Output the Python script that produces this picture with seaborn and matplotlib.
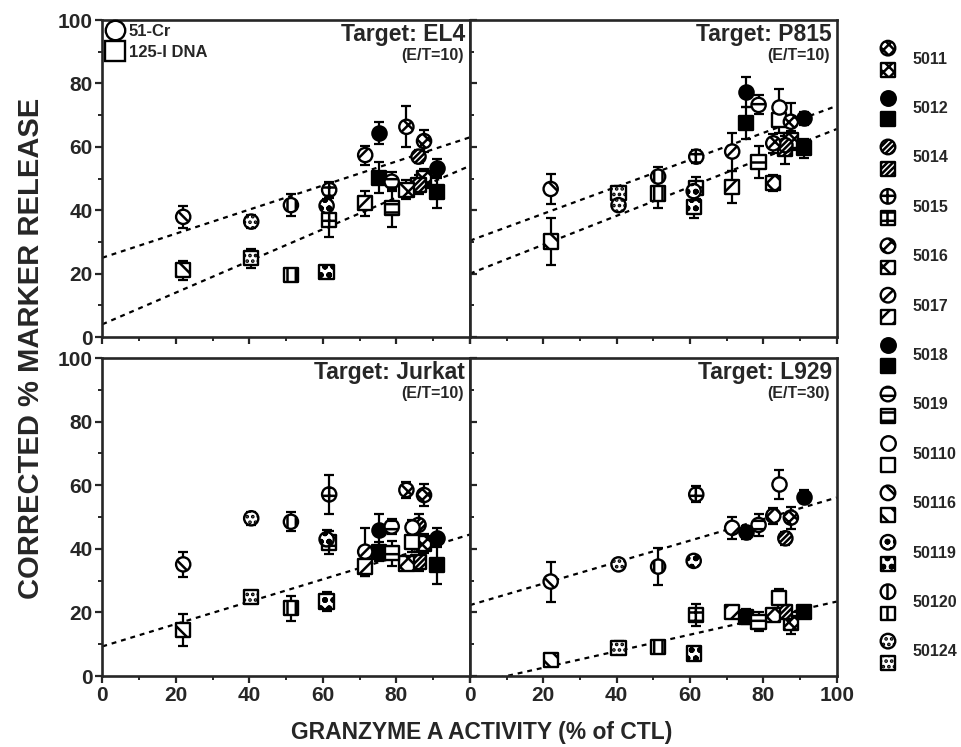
import numpy as np
import pandas as pd
import matplotlib
matplotlib.use("Agg")
import matplotlib.pyplot as plt
from matplotlib.lines import Line2D
from matplotlib.ticker import MultipleLocator, FuncFormatter
import seaborn as sns

nan = np.nan

# clones, in legend order
CLONES = ["5011", "5012", "5014", "5015", "5016", "5017", "5018",
          "5019", "50110", "50116", "50119", "50120", "50124"]
# granzyme A activity of each clone (% of CTL), the same in every panel
GRANZYME = [87.5, 75.3, 86.0, 61.7, 82.7, 71.5, 91.0, 78.7, 84.3, 22.0, 61.0, 51.3, 40.5]

# symbol fill of each clone
FILLS = ["white", "black", "white", "white", "white", "white", "black",
         "white", "white", "white", "white", "white", "white"]
HATCHES = ["xxx", None, "//////", "++", "xx", "//", None,
           "--", None, "\\\\", "oo", "||", "..."]

# corrected % release per clone (51-Cr = circles, 125-I DNA = squares)
EL4_CR = [61.8, 64.3, 56.9, 46.4, 66.3, 57.4, 53.2, 49.0, nan, 37.9, 41.4, 41.6, 36.4]
EL4_CR_ERR = [3.5, 3.5, 2, 2.5, 6.5, 3, 3, 3, nan, 3.5, 2, 3.5, 2]
EL4_DNA = [50.0, 50.3, 48.0, 36.9, 46.4, 42.2, 45.8, 40.6, nan, 21.1, 20.6, 19.6, 24.8]
EL4_DNA_ERR = [3, 5, 3, 5.5, 3, 4, 5, 6, nan, 3, 1.5, 1.5, 3]

P815_CR = [67.9, 77.4, 60.5, 56.9, 61.1, 58.5, 69.0, 73.2, 72.6, 46.7, 46.0, 50.6, 41.6]
P815_CR_ERR = [6, 4.7, 3, 2, 3, 6, 2, 3, 5.5, 4.7, 3, 3, 2]
P815_DNA = [62.0, 67.4, 59.5, 46.9, 48.5, 47.4, 59.5, 55.3, 68.5, 30.1, 41.1, 45.3, 45.5]
P815_DNA_ERR = [3, 5, 5, 3.5, 2.5, 5, 3, 5, 4, 7.3, 3.5, 4.5, 2]

JURKAT_CR = [56.9, 45.9, 47.5, 57.1, 58.5, 39.1, 43.5, 47.0, 47.0, 35.1, 43.0, 48.5, 49.6]
JURKAT_CR_ERR = [3.5, 5, 3.5, 6, 2.5, 7.5, 3, 2.5, 2, 4, 3, 3, 2]
JURKAT_DNA = [41.7, 39.1, 35.9, 42.0, 35.4, 34.4, 34.9, 38.6, 42.0, 14.5, 23.4, 21.3, 24.9]
JURKAT_DNA_ERR = [3, 3, 3, 3.5, 2, 3, 6, 4, 3, 5, 3, 4, 1.5]

L929_CR = [49.8, 45.2, 43.3, 57.1, 50.4, 46.6, 56.4, 47.5, 60.3, 29.7, 36.2, 34.4, 35.1]
L929_CR_ERR = [3.5, 2, 2, 2.5, 2.5, 3.5, 2, 3.5, 4.5, 6.3, 1, 5.8, 1.5]
L929_DNA = [16.6, 18.7, 20.2, 19.2, 19.2, 20.2, 20.2, 17.1, 24.4, 5.0, 7.1, 9.2, 8.9]
L929_DNA_ERR = [3.5, 2.5, 2, 3.5, 2, 0.5, 1, 3, 3, 1, 2, 0.5, 2]

# regression lines: y at x = 0 and x = 100
LINE_X = [0, 100]
EL4_LINES = [(25.0, 63.0), (4.0, 54.0)]
P815_LINES = [(30.4, 72.9), (20.0, 65.6)]
JURKAT_LINES = [(9.3, 44.5)]
L929_LINES = [(22.3, 56.1), (-2.6, 23.4)]

TITLES = ["Target: EL4", "Target: P815", "Target: Jurkat", "Target: L929"]
RATIOS = ["(E/T=10)", "(E/T=10)", "(E/T=10)", "(E/T=30)"]

sns.set_style("ticks")
plt.rcParams["font.family"] = ["Liberation Sans", "DejaVu Sans"]
plt.rcParams["font.weight"] = "bold"
plt.rcParams["hatch.linewidth"] = 1.8


def draw_points(ax, y, err, marker):
    df = pd.DataFrame({"x": GRANZYME, "y": y, "err": err,
                       "fill": FILLS, "hatch": HATCHES}).dropna(subset=["y"])
    ax.errorbar(df["x"], df["y"], yerr=df["err"], fmt="none", ecolor="black",
                elinewidth=1.6, capsize=3.5, capthick=1.6, zorder=2)
    for _, row in df.iterrows():
        kw = {} if row["hatch"] is None else {"hatch": row["hatch"]}
        sns.scatterplot(x=[row["x"]], y=[row["y"]], ax=ax, marker=marker, s=105,
                        color=row["fill"], edgecolor="black", linewidth=1.7,
                        zorder=3, legend=False, **kw)


def draw_panel(ax, cr, cr_err, dna, dna_err, lines, title, ratio, left, bottom):
    for a, b in lines:
        ax.plot(LINE_X, [a, b], color="black", lw=1.6, ls=(0, (2.2, 2.2)), zorder=1)
    draw_points(ax, dna, dna_err, "s")
    draw_points(ax, cr, cr_err, "o")

    ax.set_xlim(0, 100)
    ax.set_ylim(0, 100)
    ax.xaxis.set_major_locator(MultipleLocator(20))
    ax.xaxis.set_minor_locator(MultipleLocator(10))
    ax.yaxis.set_major_locator(MultipleLocator(20))
    ax.yaxis.set_minor_locator(MultipleLocator(10))
    ax.set_xlabel("")
    ax.set_ylabel("")
    for s in ax.spines.values():
        s.set_visible(True)
        s.set_linewidth(1.9)
    ax.tick_params(which="major", direction="out", length=5, width=1.6,
                   labelsize=15, pad=2)
    ax.tick_params(which="minor", direction="out", length=3, width=1.4)
    if not left:
        ax.tick_params(axis="y", which="both", direction="in", labelleft=False)
    if not bottom:
        ax.tick_params(axis="x", labelbottom=False)
    elif left:
        ax.xaxis.set_major_formatter(FuncFormatter(lambda v, _: "" if v >= 100 else f"{v:g}"))

    ax.text(0.987, 0.99, title, transform=ax.transAxes, ha="right", va="top",
            fontsize=16.5, fontweight="bold")
    ax.text(0.982, 0.887, ratio, transform=ax.transAxes, ha="right", va="center",
            fontsize=11.5, fontweight="bold")


fig = plt.figure(figsize=(9.61, 7.47), dpi=100)
W, H = 961, 747
ax_el4 = fig.add_axes([102.3 / W, 1 - 337 / H, 367.7 / W, 317 / H])
ax_p815 = fig.add_axes([470 / W, 1 - 337 / H, 366.7 / W, 317 / H])
ax_jur = fig.add_axes([102.3 / W, 1 - 676 / H, 367.7 / W, 318 / H])
ax_l929 = fig.add_axes([470 / W, 1 - 676 / H, 366.7 / W, 318 / H])

draw_panel(ax_el4, EL4_CR, EL4_CR_ERR, EL4_DNA, EL4_DNA_ERR, EL4_LINES,
           TITLES[0], RATIOS[0], True, False)
draw_panel(ax_p815, P815_CR, P815_CR_ERR, P815_DNA, P815_DNA_ERR, P815_LINES,
           TITLES[1], RATIOS[1], False, False)
draw_panel(ax_jur, JURKAT_CR, JURKAT_CR_ERR, JURKAT_DNA, JURKAT_DNA_ERR, JURKAT_LINES,
           TITLES[2], RATIOS[2], True, True)
draw_panel(ax_l929, L929_CR, L929_CR_ERR, L929_DNA, L929_DNA_ERR, L929_LINES,
           TITLES[3], RATIOS[3], False, True)

# marker legend in the EL4 panel
handles = [Line2D([], [], marker="o", ls="none", ms=14, mfc="white", mec="black", mew=1.7),
           Line2D([], [], marker="s", ls="none", ms=14, mfc="white", mec="black", mew=1.7)]
ax_el4.legend(handles, ["51-Cr", "125-I DNA"], loc="upper left", frameon=False,
              prop={"size": 12, "weight": "bold"}, handlelength=1.0, handletextpad=0.35,
              borderaxespad=0.1, borderpad=0.15, labelspacing=0.35)

# clone key on the right
ax_key = fig.add_axes([860 / W, 1 - 676.7 / H, 101 / W, 642.4 / H])
ax_key.set_xlim(0, 1)
ax_key.set_ylim(len(CLONES) - 0.5, -0.5)
ax_key.axis("off")
for i, name in enumerate(CLONES):
    kw = {} if HATCHES[i] is None else {"hatch": HATCHES[i]}
    sns.scatterplot(x=[0.277], y=[i - 0.22], ax=ax_key, marker="o", s=110,
                    color=FILLS[i], edgecolor="black", linewidth=1.7, legend=False,
                    clip_on=False, **kw)
    sns.scatterplot(x=[0.277], y=[i + 0.22], ax=ax_key, marker="s", s=100,
                    color=FILLS[i], edgecolor="black", linewidth=1.7, legend=False,
                    clip_on=False, **kw)
    ax_key.text(0.52, i, name, ha="left", va="center", fontsize=11.5, fontweight="bold")
ax_key.set_xlabel("")
ax_key.set_ylabel("")

fig.text(31 / W, 1 - 348 / H, "CORRECTED % MARKER RELEASE", rotation=90,
         ha="center", va="center", fontsize=21, fontweight="bold")
fig.text(482 / W, 1 - 733 / H, "GRANZYME A ACTIVITY (% of CTL)",
         ha="center", va="center", fontsize=16.5, fontweight="bold")

fig.savefig("out.png", dpi=100)
